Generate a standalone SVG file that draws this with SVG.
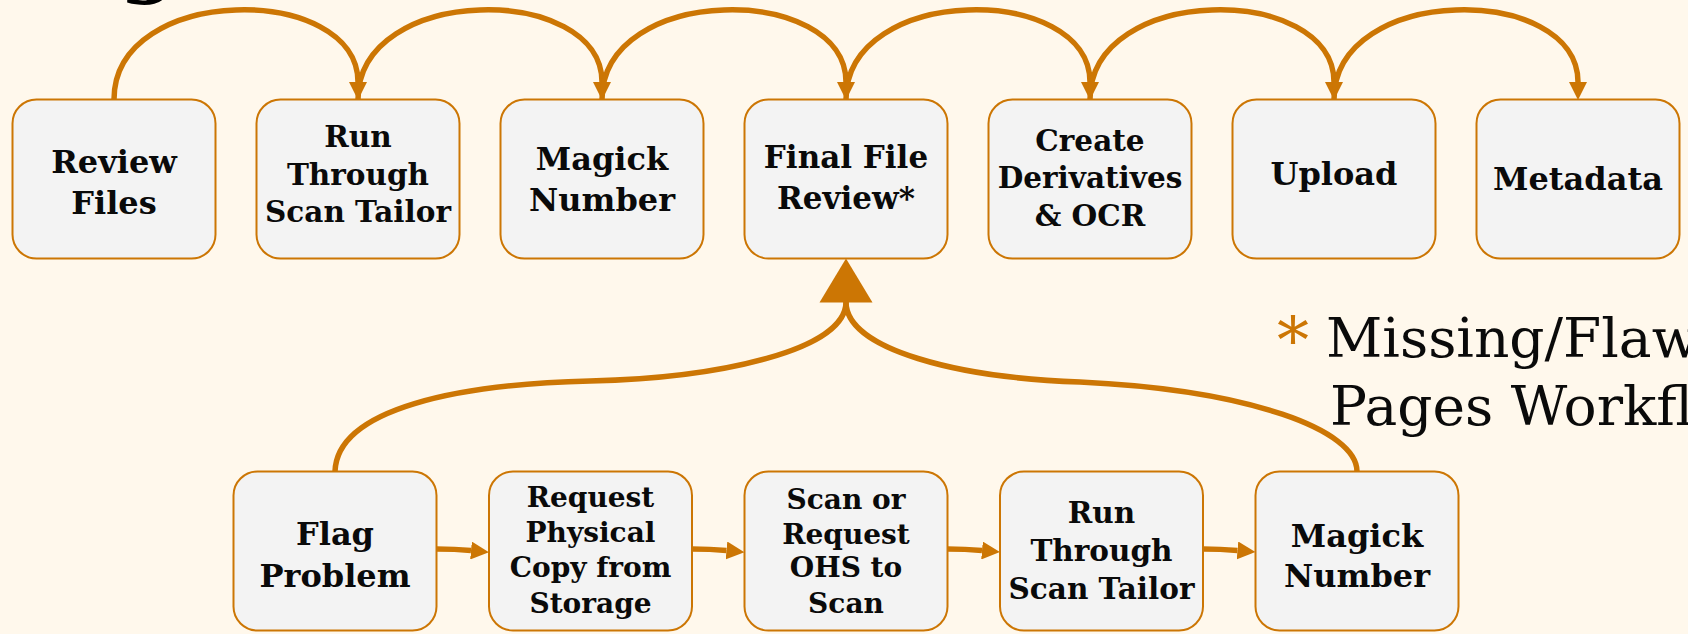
<svg xmlns="http://www.w3.org/2000/svg" width="1688" height="634" viewBox="0 0 1688 634">
  <defs>
    <style>
      .box { fill: #F3F3F3; stroke: #CC7604; stroke-width: 2; }
      .lbl { font-family: "DejaVu Serif", "Liberation Serif", serif; font-weight: bold; fill: #0A0A0A; text-anchor: middle; }
      .s32 { font-size: 32px; }
      .s31 { font-size: 31px; }
      .s29 { font-size: 29.5px; }
      .s28 { font-size: 28px; }
      .conn { fill: none; stroke: #CC7604; stroke-width: 5.5; }
      .legend { font-family: "DejaVu Serif", "Liberation Serif", serif; font-size: 55px; fill: #0A0A0A; }
    </style>
    <marker id="arr" markerUnits="userSpaceOnUse" viewBox="0 0 18 18" refX="0" refY="9" markerWidth="18" markerHeight="18" orient="auto">
      <path d="M0,0 L18,9 L0,18 Z" fill="#CC7604"/>
    </marker>
  </defs>
  <rect x="0" y="0" width="1688" height="634" fill="#FFF8EC"/>
  <text x="148" y="-13" font-family="DejaVu Serif, serif" font-weight="bold" font-size="80" fill="#000" text-anchor="middle">g</text>

  <g id="connectors">
    <path class="conn" d="M114,99.5 C114,-17 358,-17 358,82" marker-end="url(#arr)"/>
    <path class="conn" d="M358,99.5 C358,-17 602,-17 602,82" marker-end="url(#arr)"/>
    <path class="conn" d="M602,99.5 C602,-17 846,-17 846,82" marker-end="url(#arr)"/>
    <path class="conn" d="M846,99.5 C846,-17 1090,-17 1090,82" marker-end="url(#arr)"/>
    <path class="conn" d="M1090,99.5 C1090,-17 1334,-17 1334,82" marker-end="url(#arr)"/>
    <path class="conn" d="M1334,99.5 C1334,-17 1578,-17 1578,82" marker-end="url(#arr)"/>
    <path class="conn" d="M335,471.5 C337,408 460,384 590,381 C720,378 846,350 846,302"/>
    <path class="conn" d="M846,302 C846,350 960,378 1080,382 C1250,390 1357,430 1357,471.5"/>
    <polygon points="846,258.5 819.5,302.5 872.5,302.5" fill="#CC7604"/>
    <path class="conn" d="M436.5,549 Q455,549 471,550.5" marker-end="url(#arr)"/>
    <path class="conn" d="M692,549 Q710,549 726.5,550.5" marker-end="url(#arr)"/>
    <path class="conn" d="M947.5,549 Q965,549 982,550.5" marker-end="url(#arr)"/>
    <path class="conn" d="M1203,549 Q1220,549 1237.5,550.5" marker-end="url(#arr)"/>
  </g>

  <g id="review-files">
    <rect class="box" x="12.5" y="99.5" width="203" height="159" rx="24"/>
    <text class="lbl s32" x="114" y="173">Review</text>
    <text class="lbl s32" x="114" y="214">Files</text>
  </g>
  <g id="scan-tailor">
    <rect class="box" x="256.5" y="99.5" width="203" height="159" rx="24"/>
    <text class="lbl s29" x="358" y="147">Run</text>
    <text class="lbl s29" x="358" y="185">Through</text>
    <text class="lbl s29" x="358" y="222">Scan Tailor</text>
  </g>
  <g id="magick-number">
    <rect class="box" x="500.5" y="99.5" width="203" height="159" rx="24"/>
    <text class="lbl s32" x="602" y="170">Magick</text>
    <text class="lbl s32" x="602" y="211">Number</text>
  </g>
  <g id="final-file-review">
    <rect class="box" x="744.5" y="99.5" width="203" height="159" rx="24"/>
    <text class="lbl s31" x="846" y="168">Final File</text>
    <text class="lbl s31" x="846" y="209">Review*</text>
  </g>
  <g id="create-derivatives">
    <rect class="box" x="988.5" y="99.5" width="203" height="159" rx="24"/>
    <text class="lbl s29" x="1090" y="151">Create</text>
    <text class="lbl s29" x="1090" y="188">Derivatives</text>
    <text class="lbl s29" x="1090" y="226">&amp; OCR</text>
  </g>
  <g id="upload">
    <rect class="box" x="1232.5" y="99.5" width="203" height="159" rx="24"/>
    <text class="lbl s32" x="1334" y="185">Upload</text>
  </g>
  <g id="metadata">
    <rect class="box" x="1476.5" y="99.5" width="203" height="159" rx="24"/>
    <text class="lbl s32" x="1578" y="190">Metadata</text>
  </g>

  <g id="flag-problem">
    <rect class="box" x="233.5" y="471.5" width="203" height="159" rx="24"/>
    <text class="lbl s32" x="335" y="545">Flag</text>
    <text class="lbl s32" x="335" y="587">Problem</text>
  </g>
  <g id="request-physical-copy">
    <rect class="box" x="489" y="471.5" width="203" height="159" rx="24"/>
    <text class="lbl s28" x="590.5" y="507">Request</text>
    <text class="lbl s28" x="590.5" y="542">Physical</text>
    <text class="lbl s28" x="590.5" y="577">Copy from</text>
    <text class="lbl s28" x="590.5" y="613">Storage</text>
  </g>
  <g id="scan-or-request">
    <rect class="box" x="744.5" y="471.5" width="203" height="159" rx="24"/>
    <text class="lbl s28" x="846" y="509">Scan or</text>
    <text class="lbl s28" x="846" y="544">Request</text>
    <text class="lbl s28" x="846" y="577">OHS to</text>
    <text class="lbl s28" x="846" y="613">Scan</text>
  </g>
  <g id="scan-tailor-2">
    <rect class="box" x="1000" y="471.5" width="203" height="159" rx="24"/>
    <text class="lbl s29" x="1101.5" y="523">Run</text>
    <text class="lbl s29" x="1101.5" y="561">Through</text>
    <text class="lbl s29" x="1101.5" y="599">Scan Tailor</text>
  </g>
  <g id="magick-number-2">
    <rect class="box" x="1255.5" y="471.5" width="203" height="159" rx="24"/>
    <text class="lbl s32" x="1357" y="547">Magick</text>
    <text class="lbl s32" x="1357" y="587">Number</text>
  </g>

  <g id="legend">
    <text x="1277" y="363" font-family="DejaVu Serif, serif" font-size="64" fill="#CC7604">*</text>
    <text class="legend" x="1326" y="357">Missing/Flawed</text>
    <text class="legend" x="1330" y="425">Pages Workflow</text>
  </g>
</svg>
